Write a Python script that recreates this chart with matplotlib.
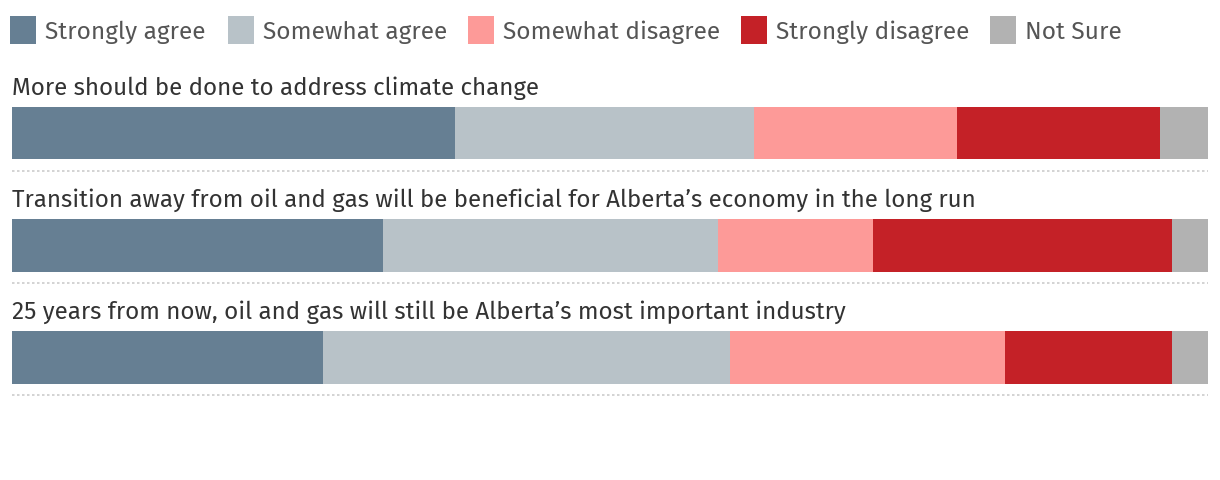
import numpy as np
import matplotlib.pyplot as plt
from matplotlib.patches import Rectangle

questions = ['More should be done to address climate change',
             'Transition away from oil and gas will be beneficial for Alberta\u2019s economy in the long run',
             '25 years from now, oil and gas will still be Alberta\u2019s most important industry']
responses = ['Strongly agree', 'Somewhat agree', 'Somewhat disagree', 'Strongly disagree', 'Not Sure']
strongly_agree = [37, 31, 26]
somewhat_agree = [25, 28, 34]
somewhat_disagree = [17, 13, 23]
strongly_disagree = [17, 25, 14]
not_sure = [4, 3, 3]
colors = ['#667f93', '#b8c2c8', '#fd9a98', '#c42127', '#b2b2b2']

plt.rcParams['font.family'] = ['Fira Sans', 'Lato', 'DejaVu Sans']
fig = plt.figure(figsize=(12.2, 4.8), dpi=100)
ax = fig.add_axes([12/1220, 0, 1196/1220, 1])
ax.set_xlim(0, 100)
ax.set_ylim(3.098, -1.1875)
ax.axis('off')

series = [strongly_agree, somewhat_agree, somewhat_disagree, strongly_disagree, not_sure]
y = np.arange(len(questions))
left = np.zeros(len(questions))
for vals, c in zip(series, colors):
    ax.barh(y, vals, left=left, height=0.473, color=c, linewidth=0)
    left += np.array(vals)

for i, q in enumerate(questions):
    ax.text(0, i - 0.40, q, fontsize=17.4, color='#333333', va='center', ha='left')
    ax.plot([0, 100], [i + 0.34, i + 0.34], color='#cccccc', lw=1.2,
            linestyle=(0, (1.5, 1.5)))

# legend
leg_x = [10, 228, 468, 741, 990]
for x0, lab, c in zip(leg_x, responses, colors):
    fig.patches.append(Rectangle((x0/1220, 1 - 44/480), 26/1220, 28/480,
                                 transform=fig.transFigure, color=c, lw=0))
    fig.text((x0 + 35)/1220, 1 - 32.5/480, lab, fontsize=17.6, color='#555555',
             va='center', ha='left')

fig.savefig('out.png', dpi=100)
